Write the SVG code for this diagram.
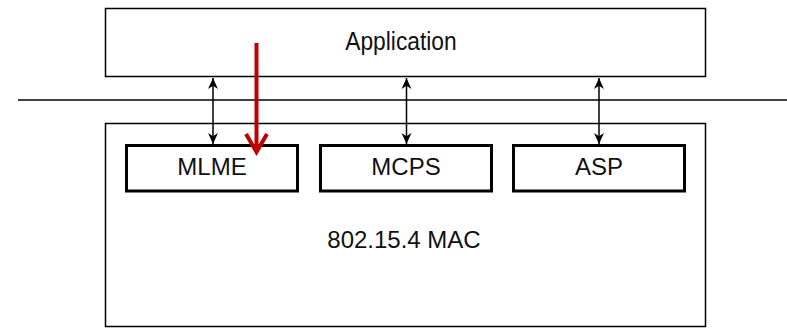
<svg xmlns="http://www.w3.org/2000/svg" width="787" height="328" viewBox="0 0 787 328">
<defs>
<style>
.box{fill:#fff;stroke:#000;stroke-width:1.5}
.sub{fill:#fff;stroke:#000;stroke-width:3}
.lbl{font-family:"Liberation Sans",Arial,sans-serif;font-size:24px;fill:#111;text-anchor:middle}
.conn{stroke:#000;stroke-width:1.5;fill:none}
</style>
<marker id="ah" viewBox="0 0 10 10" refX="10" refY="5" markerWidth="11" markerHeight="11" markerUnits="userSpaceOnUse" orient="auto-start-reverse">
<path d="M0,0.5 L10,5 L0,9.5 L3,5 Z" fill="#000"/>
</marker>
</defs>
<rect width="787" height="328" fill="#fff"/>
<line x1="18" y1="100" x2="787" y2="100" stroke="#000" stroke-width="1.5"/>
<g id="application">
<rect class="box" x="105.5" y="8.5" width="600" height="68"/>
<text class="lbl" x="401" y="50" transform="translate(401 50) scale(0.95 1.08) translate(-401 -50)">Application</text>
</g>
<g id="mac">
<rect class="box" x="105.5" y="123.5" width="600" height="203"/>
<text class="lbl" x="404" y="248">802.15.4 MAC</text>
</g>
<g id="mlme">
<rect class="sub" x="126.5" y="145.5" width="171" height="45.5"/>
<text class="lbl" x="212" y="175">MLME</text>
</g>
<g id="mcps">
<rect class="sub" x="320.5" y="145.5" width="171" height="45.5"/>
<text class="lbl" x="406" y="175">MCPS</text>
</g>
<g id="asp">
<rect class="sub" x="513.5" y="145.5" width="171" height="45.5"/>
<text class="lbl" x="599" y="175">ASP</text>
</g>
<g id="connectors">
<line class="conn" x1="213" y1="78" x2="213" y2="144" marker-start="url(#ah)" marker-end="url(#ah)"/>
<line class="conn" x1="406.5" y1="78" x2="406.5" y2="144" marker-start="url(#ah)" marker-end="url(#ah)"/>
<line class="conn" x1="599" y1="78" x2="599" y2="144" marker-start="url(#ah)" marker-end="url(#ah)"/>
<line x1="256.5" y1="43" x2="256.5" y2="151" stroke="#c00000" stroke-width="4"/>
<polyline points="246,134 256.5,152 267,134" fill="none" stroke="#c00000" stroke-width="4" stroke-linejoin="miter"/>
</g>
</svg>
